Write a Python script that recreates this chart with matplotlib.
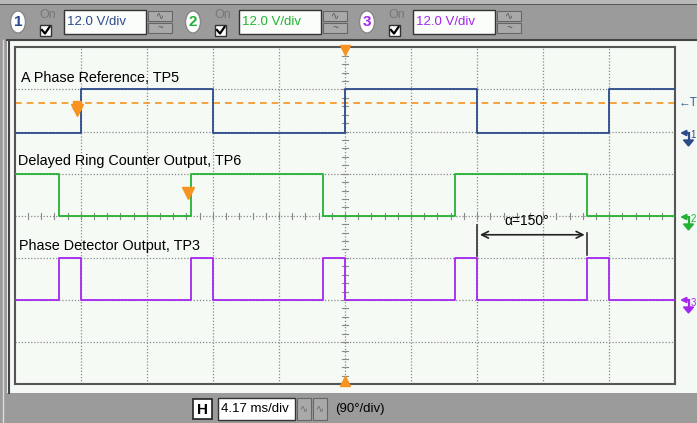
import matplotlib
matplotlib.use("Agg")
import matplotlib.pyplot as plt
from matplotlib.patches import Rectangle, Ellipse, Polygon
import numpy as np

plt.rcParams['font.family'] = ['Liberation Sans', 'DejaVu Sans']

# ---------------- data (in screen divisions: 10 x 8) ----------------
ch1_edges = [0, 1, 3, 5, 7, 9, 10]
ch1_states = [0, 1, 0, 1, 0, 1]
ch1_low, ch1_high = 5.97, 7.0

ch2_edges = [0, 0.67, 2.67, 4.67, 6.67, 8.67, 10]
ch2_states = [1, 0, 1, 0, 1, 0]
ch2_low, ch2_high = 4.0, 5.0

ch3_edges = [0, 0.67, 1, 2.67, 3, 4.67, 5, 6.67, 7, 8.67, 9, 10]
ch3_states = [0, 1, 0, 1, 0, 1, 0, 1, 0, 1, 0]
ch3_low, ch3_high = 2.0, 3.0

trigger_level = 6.67
labels = ["A Phase Reference, TP5", "Delayed Ring Counter Output, TP6", "Phase Detector Output, TP3"]
ch_scales = ["12.0 V/div", "12.0 V/div", "12.0 V/div"]
time_scale = "4.17 ms/div"
phase_scale = "(90°/div)"
alpha_text = "α=150°"
alpha_start, alpha_end = 7.0, 8.67

c1, c2, c3 = '#2b4a8c', '#22b233', '#a526f0'
orange = '#f7931e'
W, H = 697, 423

fig = plt.figure(figsize=(W/100, H/100), dpi=100, facecolor='#9b9b9b')

# background / widget layer in pixel coords
bg = fig.add_axes([0, 0, 1, 1], zorder=0)
bg.set_xlim(0, W); bg.set_ylim(H, 0); bg.axis('off')
bg.add_patch(Rectangle((0, 0), W, 4, color='#b8b8b8', lw=0))
bg.add_patch(Rectangle((0, 4), W, 1.2, color='#555555', lw=0))
bg.add_patch(Rectangle((7, 40), W, 353, facecolor='#f5f9f5', edgecolor='none'))
bg.plot([7, W], [40.5, 40.5], color='#444444', lw=1.5)
bg.plot([8.5, 8.5], [40, 393], color='#444444', lw=1.5)
bg.plot([3, 3], [40, H], color='#dcdcdc', lw=1)

def chan_widget(x0, num, col, txt):
    bg.add_patch(Ellipse((x0 + 7, 22), 15, 22, facecolor='white', edgecolor='#888888', lw=1))
    bg.text(x0 + 7, 22.5, str(num), color=col, ha='center', va='center', fontsize=11, fontweight='bold')
    bg.text(x0 + 28, 14.5, "On", color='#777777', ha='left', va='center', fontsize=9)
    bg.add_patch(Rectangle((x0 + 29, 25), 11, 11, facecolor='white', edgecolor='#333333', lw=1))
    bg.plot([x0 + 31, x0 + 34, x0 + 38.5], [30, 33.5, 27], color='black', lw=1.6)
    bg.add_patch(Rectangle((x0 + 53, 10), 82, 24, facecolor='#fbfdfb', edgecolor='#333333', lw=1))
    bg.text(x0 + 56, 22, txt, color=col, ha='left', va='center', fontsize=9.5)
    for yy, sym in ((11, '∿'), (23, '~')):
        bg.add_patch(Rectangle((x0 + 137, yy), 24, 10, facecolor='#a9a9a9', edgecolor='#666666', lw=0.8))
        bg.text(x0 + 149, yy + 5, sym, color='#555555', ha='center', va='center', fontsize=7)

chan_widget(11, 1, c1, ch_scales[0])
chan_widget(186, 2, c2, ch_scales[1])
chan_widget(360, 3, c3, ch_scales[2])

# bottom bar widgets
bg.add_patch(Rectangle((193, 399), 19, 20, facecolor='white', edgecolor='#222222', lw=1.2))
bg.text(202.5, 409.5, "H", ha='center', va='center', fontsize=11, fontweight='bold')
bg.add_patch(Rectangle((218, 398), 77, 22, facecolor='white', edgecolor='#333333', lw=1))
bg.text(221, 409, time_scale, ha='left', va='center', fontsize=9.5)
for xx, sym in ((297, '∿'), (313, '∿')):
    bg.add_patch(Rectangle((xx, 398), 14, 22, facecolor='#a9a9a9', edgecolor='#666666', lw=0.8))
    bg.text(xx + 7, 409, sym, color='#666666', ha='center', va='center', fontsize=7)
bg.text(335, 409, phase_scale, ha='left', va='center', fontsize=9.5)

# right side markers
bg.text(679, 103, "←T", color='#3a5a9a', ha='left', va='center', fontsize=8.5)
def gnd(y, col, num):
    bg.annotate('', xy=(680, y), xytext=(689, y),
                arrowprops=dict(arrowstyle='-|>', color=col, lw=1.4, mutation_scale=8,
                                shrinkA=0, shrinkB=0))
    bg.plot([688.5, 688.5], [y, y + 8], color=col, lw=1.6)
    bg.add_patch(Polygon([[683.5, y + 7], [693.5, y + 7], [688.5, y + 13]], closed=True, color=col))
    bg.text(690.5, y + 2.5, str(num), color=col, fontsize=7, ha='left', va='center')
gnd(133, c1, 1)
gnd(217, c2, 2)
gnd(300, c3, 3)

# ---------------- main scope axes ----------------
x0p, x1p, y0p, y1p = 14.7, 675.3, 47.3, 384.3
ax = fig.add_axes([x0p/W, 1 - y1p/H, (x1p - x0p)/W, (y1p - y0p)/H], zorder=1)
ax.set_facecolor('#f5faf5')
ax.set_xlim(0, 10); ax.set_ylim(0, 8)
ax.set_xticks([]); ax.set_yticks([])
for s in ax.spines.values():
    s.set_color('#555555'); s.set_linewidth(1.5)

gcol = '#8a8a8a'
for xv in range(1, 10):
    ax.axvline(xv, color=gcol, lw=0.9, ls=(0, (1, 1.5)), zorder=1)
for yv in range(1, 8):
    ax.axhline(yv, color=gcol, lw=0.9, ls=(0, (1, 1.5)), zorder=1)
# center ticks
for t in np.arange(0.2, 10, 0.2):
    ax.plot([t, t], [4 - 0.07, 4 + 0.07], color=gcol, lw=0.8, zorder=1)
for t in np.arange(0.2, 8, 0.2):
    ax.plot([5 - 0.05, 5 + 0.05], [t, t], color=gcol, lw=0.8, zorder=1)

# trigger level
ax.axhline(trigger_level, color=orange, lw=1.2, ls=(0, (4, 3)), zorder=2)

def trace(edges, states, lo, hi, col):
    lv = [hi if s else lo for s in states]
    ax.step(edges, lv + [lv[-1]], where='post', color=col, lw=1.3, zorder=3)

trace(ch1_edges, ch1_states, ch1_low, ch1_high, c1)
trace(ch2_edges, ch2_states, ch2_low, ch2_high, c2)
trace(ch3_edges, ch3_states, ch3_low, ch3_high, c3)

ax.text(0.09, 7.27, labels[0], fontsize=10.4, va='center', ha='left', zorder=4)
ax.text(0.05, 5.31, labels[1], fontsize=10.4, va='center', ha='left', zorder=4)
ax.text(0.07, 3.28, labels[2], fontsize=10.4, va='center', ha='left', zorder=4)

# orange markers
ax.plot([0.95], [6.5], marker='v', color=orange, ms=9, zorder=5, clip_on=False)
ax.plot([0.95], [6.62], marker='s', color=orange, ms=6, zorder=5, clip_on=False)
ax.plot([2.63], [4.54], marker='v', color=orange, ms=8, zorder=5)
ax.plot([5], [7.93], marker='v', color=orange, ms=7, zorder=5, clip_on=False)
ax.plot([5], [0.07], marker='^', color=orange, ms=7, zorder=5, clip_on=False)

# phase measurement
ax.plot([alpha_start, alpha_start], [3.05, 3.78], color='#333333', lw=1.2, zorder=4)
ax.plot([alpha_end, alpha_end], [3.08, 3.6], color='#333333', lw=1.2, zorder=4)
ax.annotate('', xy=(alpha_start, 3.55), xytext=(alpha_end, 3.55),
            arrowprops=dict(arrowstyle='<->', color='#222222', lw=1.2, mutation_scale=12), zorder=4)
ax.text(7.75, 3.88, alpha_text, fontsize=10, ha='center', va='center', zorder=4)

fig.savefig('out.png', dpi=100, facecolor=fig.get_facecolor())
